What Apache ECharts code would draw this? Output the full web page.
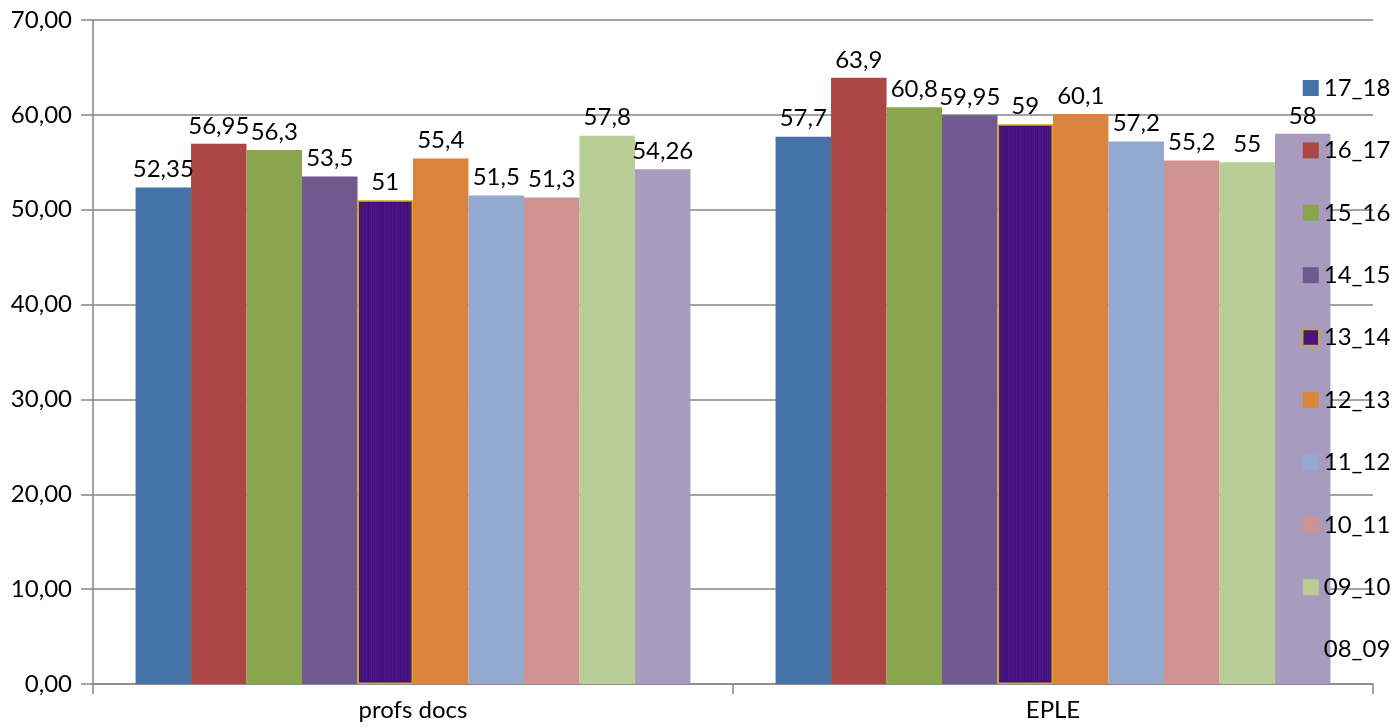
<!DOCTYPE html>
<html>
<head>
<meta charset="utf-8">
<script src="https://cdn.jsdelivr.net/npm/echarts@6/dist/echarts.min.js"></script>
<style>html,body{margin:0;padding:0;background:#fff;}#c{width:1396px;height:728px;}</style>
</head>
<body>
<div id="c"></div>
<script>
var categories = ['profs docs', 'EPLE'];
var seriesNames = ['17_18', '16_17', '15_16', '14_15', '13_14', '12_13', '11_12', '10_11', '09_10', '08_09'];
var v17_18 = [52.35, 57.7];
var v16_17 = [56.95, 63.9];
var v15_16 = [56.3, 60.8];
var v14_15 = [53.5, 59.95];
var v13_14 = [51, 59];
var v12_13 = [55.4, 60.1];
var v11_12 = [51.5, 57.2];
var v10_11 = [51.3, 55.2];
var v09_10 = [57.8, 55];
var v08_09 = [54.26, 58];
var yTicks = [0, 10, 20, 30, 40, 50, 60, 70];
var seriesValues = [v17_18, v16_17, v15_16, v14_15, v13_14, v12_13, v11_12, v10_11, v09_10, v08_09];
var colors = ['#4572A7', '#AA4643', '#89A54E', '#71588F', '#4A1282', '#DB843D', '#93A9CF', '#D19392', '#B9CD96', '#A99BBD'];

// textured fill for 13_14 (fixed stripe shades)
var stripeShades = ['#4a1280', '#44107a', '#4d1486', '#47117d', '#420e76', '#4b1383', '#46107b', '#50168a', '#440f78', '#4a1282', '#430e75', '#4e1587', '#48127f'];
var pc = document.createElement('canvas');
pc.width = stripeShades.length; pc.height = 40;
var pctx = pc.getContext('2d');
for (var i = 0; i < stripeShades.length; i++) {
  pctx.fillStyle = stripeShades[i];
  pctx.fillRect(i, 0, 1, 40);
}

var font = 'Lato';
var fs = 24;
var fmt = function (v) { return String(v).replace('.', ','); };

var series = seriesNames.map(function (n, i) {
  var s = {
    name: n,
    type: 'bar',
    data: seriesValues[i],
    barGap: '0%',
    barCategoryGap: '13.3%',
    itemStyle: { color: colors[i] },
    label: {
      show: true,
      position: 'top',
      distance: 6,
      color: '#000',
      fontFamily: font,
      fontSize: fs,
      formatter: function (p) { return fmt(p.value); }
    },
    z: 1
  };
  if (n === '13_14') {
    s.itemStyle = { color: { image: pc, repeat: 'repeat' }, borderColor: '#C8B400', borderWidth: 1.5 };
  }
  return s;
});

var legendData = seriesNames.map(function (n, i) {
  if (n === '13_14') return { name: n, itemStyle: { color: '#4A1282', borderColor: '#C8B400', borderWidth: 1.5 } };
  if (n === '08_09') return { name: n, itemStyle: { color: 'rgba(0,0,0,0)', borderWidth: 0 } };
  return { name: n, itemStyle: { color: colors[i] } };
});

var chart = echarts.init(document.getElementById('c'));
chart.setOption({
  animation: false,
  backgroundColor: '#fff',
  grid: { left: 93, right: 23, top: 20, bottom: 44, containLabel: false },
  legend: {
    orient: 'vertical',
    left: 1297,
    top: 71,
    itemWidth: 16,
    itemHeight: 16,
    itemGap: 38.4,
    icon: 'rect',
    data: legendData,
    textStyle: { fontFamily: font, fontSize: fs, color: '#000', lineHeight: 24 },
    selectedMode: false
  },
  xAxis: {
    type: 'category',
    data: categories,
    axisLine: { lineStyle: { color: '#868686', width: 1.5 } },
    axisTick: { show: true, length: 10, lineStyle: { color: '#868686', width: 1.5 } },
    axisLabel: { color: '#000', fontFamily: font, fontSize: fs, margin: 14 }
  },
  yAxis: {
    type: 'value',
    min: yTicks[0],
    max: yTicks[yTicks.length - 1],
    interval: yTicks[1] - yTicks[0],
    axisLine: { show: true, lineStyle: { color: '#868686', width: 1.5 } },
    axisTick: { show: true, length: 12, lineStyle: { color: '#868686', width: 1.5 } },
    splitLine: { show: true, lineStyle: { color: '#868686', width: 1.5 } },
    axisLabel: {
      color: '#000', fontFamily: font, fontSize: fs, margin: 21,
      formatter: function (v) { return v.toFixed(2).replace('.', ','); }
    }
  },
  series: series
});
</script>
</body>
</html>
